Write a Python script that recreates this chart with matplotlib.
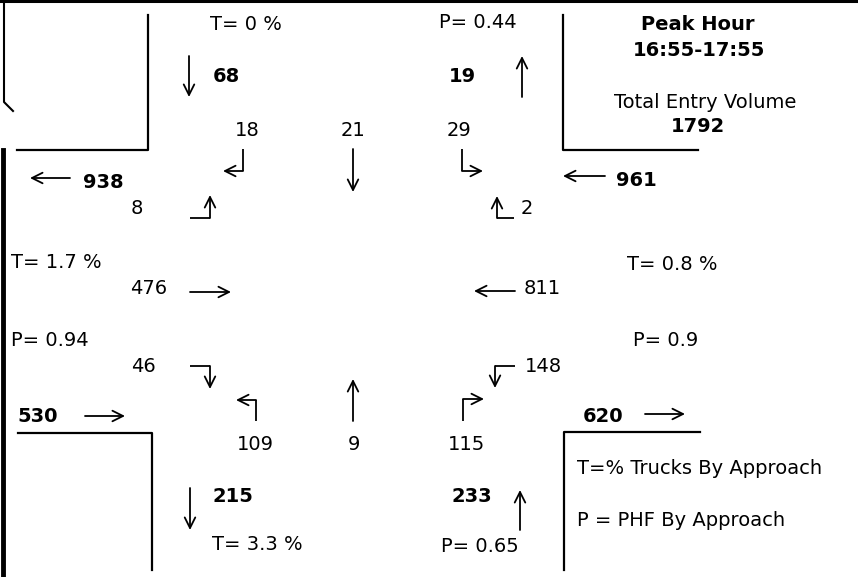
import matplotlib

matplotlib.use("Agg")
import matplotlib.pyplot as plt

# ---------------- data ----------------
approaches = ["N", "E", "S", "W"]
entry_volume = [68, 961, 233, 530]
exit_volume = [19, 620, 215, 938]
truck_pct = [0, 0.8, 3.3, 1.7]
phf = [0.44, 0.9, 0.65, 0.94]
north_moves = [18, 21, 29]    # right, through, left
east_moves = [2, 811, 148]
south_moves = [109, 9, 115]
west_moves = [8, 476, 46]
peak_hour = "16:55-17:55"
total_entry = sum(entry_volume)

# ---------------- layout (pixel coords of the sheet) ----------------
W, H = 858, 577
FS = 14
LW = 1.3

entry_pos = {"N": (226, 77), "E": (636, 180), "S": (472, 497), "W": (38, 416)}
exit_pos = {"N": (462, 77), "E": (603, 416), "S": (233, 497), "W": (103, 182)}
truck_pos = {"N": (246, 24, "center"), "E": (672, 264, "center"), "S": (257, 545, "center"), "W": (11, 262, "left")}
phf_pos = {"N": (478, 23, "center"), "E": (666, 340, "center"), "S": (480, 547, "center"), "W": (11, 341, "left")}
entry_arrow = {"N": [(189, 56), (189, 97)], "E": [(605, 176), (563, 176)],
               "S": [(520, 530), (520, 490)], "W": [(85, 416), (125, 416)]}
exit_arrow = {"N": [(522, 97), (522, 56)], "E": [(645, 414), (685, 414)],
              "S": [(190, 488), (190, 530)], "W": [(70, 178), (30, 178)]}
move_pos = {
    "N": [(247, 130), (353, 130), (459, 130)],
    "E": [(527, 208), (542, 288), (543, 366)],
    "S": [(255, 444), (354, 444), (467, 444)],
    "W": [(137, 209), (149, 288), (143, 366)],
}
move_arrow = {
    "N": [[(243, 149), (243, 171), (223, 171)], [(353, 149), (353, 192)], [(462, 149), (462, 171), (483, 171)]],
    "E": [[(514, 218), (497, 218), (497, 196)], [(515, 291), (474, 291)], [(515, 366), (495, 366), (495, 388)]],
    "S": [[(256, 421), (256, 400), (236, 400)], [(353, 421), (353, 379)], [(463, 421), (463, 399), (484, 399)]],
    "W": [[(190, 218), (210, 218), (210, 195)], [(190, 292), (231, 292)], [(190, 366), (210, 366), (210, 389)]],
}
boxes = [
    [(17, 150), (148, 150), (148, 15)],
    [(698, 150), (563, 150), (563, 15)],
    [(18, 433), (152, 433), (152, 570)],
    [(700, 432), (564, 432), (564, 570)],
]


def arrow(ax, pts):
    """Polyline with an open arrow head on the last segment."""
    xs, ys = zip(*pts)
    if len(pts) > 2:
        ax.plot(xs[:-1], ys[:-1], color="black", lw=LW, solid_capstyle="butt")
    ax.annotate("", xy=pts[-1], xytext=pts[-2],
                arrowprops=dict(arrowstyle="->", lw=LW, color="black", mutation_scale=19,
                                shrinkA=0, shrinkB=0))


fig = plt.figure(figsize=(W / 100, H / 100), dpi=100)
ax = fig.add_axes([0, 0, 1, 1])
ax.set_xlim(0, W)
ax.set_ylim(H, 0)
ax.axis("off")

# sheet border (scan edges)
ax.plot([0, W], [1, 1], color="black", lw=2.2)
ax.plot([4, 4, 13], [0, 102, 111], color="black", lw=1.5)
ax.plot([3, 3], [150, H], color="black", lw=3.5)

for pts in boxes:
    xs, ys = zip(*pts)
    ax.plot(xs, ys, color="black", lw=1.6)

txt = dict(fontsize=FS, family="DejaVu Sans", va="center", color="black")
for i, a in enumerate(approaches):
    x, y = entry_pos[a]
    ax.text(x, y, str(entry_volume[i]), ha="center", weight="bold", **txt)
    x, y = exit_pos[a]
    ax.text(x, y, str(exit_volume[i]), ha="center", weight="bold", **txt)
    x, y, ha = truck_pos[a]
    ax.text(x, y, f"T= {truck_pct[i]:g} %", ha=ha, **txt)
    x, y, ha = phf_pos[a]
    ax.text(x, y, f"P= {phf[i]:g}", ha=ha, **txt)
    arrow(ax, entry_arrow[a])
    arrow(ax, exit_arrow[a])

moves = {"N": north_moves, "E": east_moves, "S": south_moves, "W": west_moves}
for a in approaches:
    for v, (x, y), pts in zip(moves[a], move_pos[a], move_arrow[a]):
        ax.text(x, y, str(v), ha="center", **txt)
        arrow(ax, pts)

ax.text(698, 24, "Peak Hour", ha="center", weight="bold", **txt)
ax.text(699, 50, peak_hour, ha="center", weight="bold", **txt)
ax.text(705, 103, "Total Entry Volume", ha="center", **txt)
ax.text(698, 127, str(total_entry), ha="center", weight="bold", **txt)

ax.text(577, 469, "T=% Trucks By Approach", ha="left", **txt)
ax.text(577, 521, "P = PHF By Approach", ha="left", **txt)

fig.savefig("out.png", dpi=100)
plt.close(fig)
